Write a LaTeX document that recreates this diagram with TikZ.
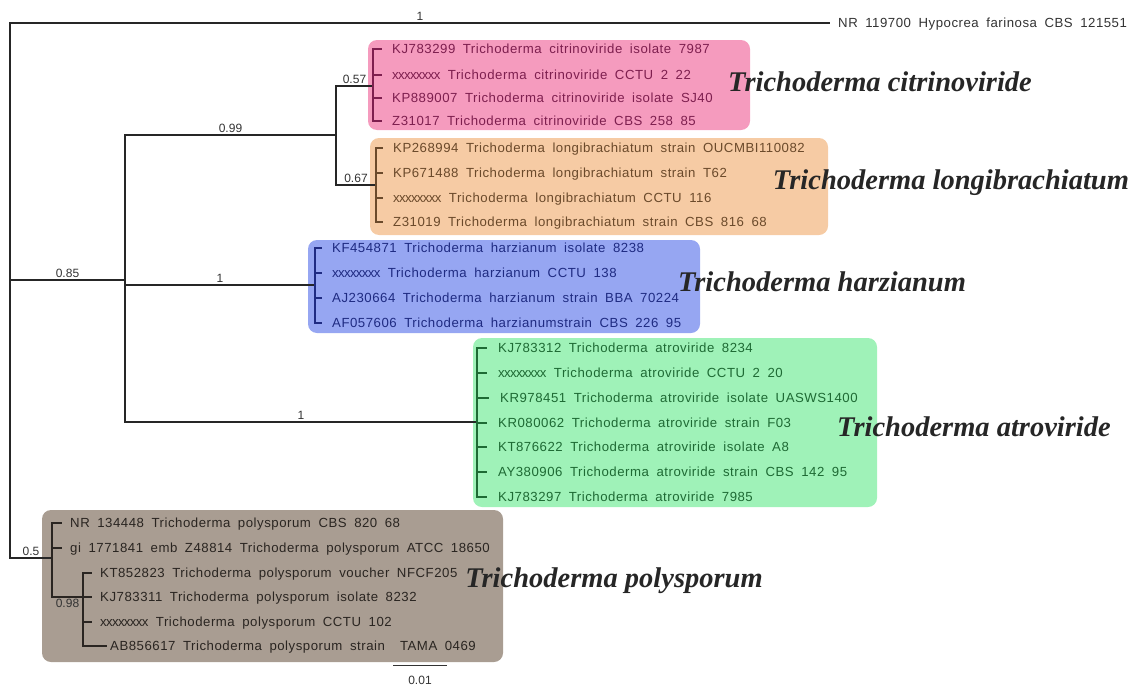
\documentclass[tikz,border=0pt]{standalone}
\usepackage{fontspec}
\setmainfont{Liberation Serif}
\setsansfont{Liberation Sans}
\newfontfamily\leaffont{Liberation Sans}[LetterSpace=4,WordSpace=1.8]
\newfontfamily\idfont{Liberation Sans}[LetterSpace=-5]
\newcommand{\xid}{{\idfont xxxxxxxx}}
\usepackage{tikz}
\usetikzlibrary{positioning, calc, backgrounds}
\definecolor{citfill}{HTML}{F59BBE}
\definecolor{citdark}{HTML}{7E1F4F}
\definecolor{lonfill}{HTML}{F6CBA4}
\definecolor{londark}{HTML}{6B4A2B}
\definecolor{harfill}{HTML}{96A6F2}
\definecolor{hardark}{HTML}{1F2B82}
\definecolor{atrfill}{HTML}{9FF2B8}
\definecolor{atrdark}{HTML}{1E6A34}
\definecolor{polfill}{HTML}{A99D92}
\definecolor{poldark}{HTML}{2A2521}
\tikzset{
  branch/.style={line width=1.6pt, draw=black!85},
  bracket/.style={line width=1.8pt, line cap=rect},
  support/.style={font=\sffamily\fontsize{12}{12}\selectfont, text=black!80, inner sep=1.5pt},
  leaf/.style={anchor=west, inner sep=0pt, text height=9.4pt, text depth=0pt, font=\leaffont\fontsize{13.2}{13.2}\selectfont},
  species/.style={font=\bfseries\itshape\fontsize{28.5}{28.5}\selectfont, text=black!85},
  clade/.style={rounded corners=9pt}
}

\begin{document}
\begin{tikzpicture}[x=1pt, y=-1pt]
\useasboundingbox (0,0) rectangle (1140,688);

% Internal nodes
\coordinate (root) at (10,280);
\coordinate (n85) at (125,280);
\coordinate (n99) at (336,135);
\coordinate (cit) at (373,86);
\coordinate (lon) at (376,185);
\coordinate (har) at (315,285);
\coordinate (atr) at (477,422);
\coordinate (pol) at (52,558);
\coordinate (n98) at (83,597);

% Outgroup
\node (out) [leaf, text=black!80] at (838,23) {NR 119700 Hypocrea farinosa CBS 121551};

% Leaves: citrinoviride
\node (cit1) [leaf, text=citdark] at (392,49) {KJ783299 Trichoderma citrinoviride isolate 7987};
\node (cit2) [leaf, text=citdark] at (392,75) {\xid\ Trichoderma citrinoviride CCTU 2 22};
\node (cit3) [leaf, text=citdark] at (392,98) {KP889007 Trichoderma citrinoviride isolate SJ40};
\node (cit4) [leaf, text=citdark] at (392,121) {Z31017 Trichoderma citrinoviride CBS 258 85};

% Leaves: longibrachiatum
\node (lon1) [leaf, text=londark] at (393,148) {KP268994 Trichoderma longibrachiatum strain OUCMBI110082};
\node (lon2) [leaf, text=londark] at (393,173) {KP671488 Trichoderma longibrachiatum strain T62};
\node (lon3) [leaf, text=londark] at (393,198) {\xid\ Trichoderma longibrachiatum CCTU 116};
\node (lon4) [leaf, text=londark] at (393,222) {Z31019 Trichoderma longibrachiatum strain CBS 816 68};

% Leaves: harzianum
\node (har1) [leaf, text=hardark] at (332,248) {KF454871 Trichoderma harzianum isolate 8238};
\node (har2) [leaf, text=hardark] at (332,273) {\xid\ Trichoderma harzianum CCTU 138};
\node (har3) [leaf, text=hardark] at (332,298) {AJ230664 Trichoderma harzianum strain BBA 70224};
\node (har4) [leaf, text=hardark] at (332,323) {AF057606 Trichoderma harzianumstrain CBS 226 95};

% Leaves: atroviride
\node (atr1) [leaf, text=atrdark] at (498,348) {KJ783312 Trichoderma atroviride 8234};
\node (atr2) [leaf, text=atrdark] at (498,373) {\xid\ Trichoderma atroviride CCTU 2 20};
\node (atr3) [leaf, text=atrdark] at (500,398) {KR978451 Trichoderma atroviride isolate UASWS1400};
\node (atr4) [leaf, text=atrdark] at (498,423) {KR080062 Trichoderma atroviride strain F03};
\node (atr5) [leaf, text=atrdark] at (498,447) {KT876622 Trichoderma atroviride isolate A8};
\node (atr6) [leaf, text=atrdark] at (498,472) {AY380906 Trichoderma atroviride strain CBS 142 95};
\node (atr7) [leaf, text=atrdark] at (498,497) {KJ783297 Trichoderma atroviride 7985};

% Leaves: polysporum
\node (pol1) [leaf, text=poldark] at (70,523) {NR 134448 Trichoderma polysporum CBS 820 68};
\node (pol2) [leaf, text=poldark] at (70,548) {gi 1771841 emb Z48814 Trichoderma polysporum ATCC 18650};
\node (pol3) [leaf, text=poldark] at (100,573) {KT852823 Trichoderma polysporum voucher NFCF205};
\node (pol4) [leaf, text=poldark] at (100,597) {KJ783311 Trichoderma polysporum isolate 8232};
\node (pol5) [leaf, text=poldark] at (100,622) {\xid\ Trichoderma polysporum CCTU 102};
\node (pol6) [leaf, text=poldark] at (110,646) {AB856617 Trichoderma polysporum strain\ \ TAMA 0469};

% Species names
\node (citname) [species] at (880,82) {Trichoderma citrinoviride};
\node (lonname) [species] at (951,183) {Trichoderma longibrachiatum};
\node (harname) [species] at (822,282) {Trichoderma harzianum};
\node (atrname) [species] at (974,427) {Trichoderma atroviride};
\node (polname) [species] at (614,581) {Trichoderma polysporum};

% Branches
\draw [branch] (root) |- node[support, pos=.75, above] {1} ([xshift=-8pt]out.west);
\draw [branch] (root) |- node[support, pos=.75, above] {0.5} (pol);
\draw [branch] (root) -- node[support, above] {0.85} (n85);
\draw [branch] (n85) |- node[support, pos=.75, above] {0.99} (n99);
\draw [branch] (n85) |- node[support, pos=.75, above] {1} (har);
\draw [branch] (n85) |- node[support, pos=.75, above] {1} (atr);
\draw [branch] (n99) |- node[support, pos=.75, above] {0.57} (cit);
\draw [branch] (n99) |- node[support, pos=.75, above] {0.67} (lon);

% Brackets
\draw [bracket, citdark] (cit |- cit1.west) -- (cit |- cit4.west);
\foreach \n in {cit1,cit2,cit3,cit4}
  \draw [bracket, citdark] (cit |- \n.west) -- ([xshift=-11pt]\n.west);
\draw [bracket, londark] (lon |- lon1.west) -- (lon |- lon4.west);
\foreach \n in {lon1,lon2,lon3,lon4}
  \draw [bracket, londark] (lon |- \n.west) -- ([xshift=-11pt]\n.west);
\draw [bracket, hardark] (har |- har1.west) -- (har |- har4.west);
\foreach \n in {har1,har2,har3,har4}
  \draw [bracket, hardark] (har |- \n.west) -- ([xshift=-11pt]\n.west);
\draw [bracket, atrdark] (atr |- atr1.west) -- (atr |- atr7.west);
\foreach \n in {atr1,atr2,atr3,atr4,atr5,atr6,atr7}
  \draw [bracket, atrdark] (atr |- \n.west) -- ([xshift=-12pt]\n.west);
\draw [bracket, poldark] (pol |- pol1.west) -- (pol |- n98);
\draw [bracket, poldark] (pol |- n98) -- node[support, below] {0.98} (n98);
\foreach \n in {pol1,pol2}
  \draw [bracket, poldark] (pol |- \n.west) -- ([xshift=-9pt]\n.west);
\draw [bracket, poldark] (n98 |- pol3.west) -- (n98 |- pol6.west);
\foreach \n in {pol3,pol4,pol5}
  \draw [bracket, poldark] (n98 |- \n.west) -- ([xshift=-9pt]\n.west);
\draw [bracket, poldark] (n98 |- pol6.west) -- ([xshift=-4pt]pol6.west);

% Scale bar
\coordinate (sb1) at (393,665);
\coordinate (sb2) at (447,665);
\draw [line width=1pt, black!80] (sb1) -- node[support, below=9pt] {0.01} (sb2);

% Clade boxes
\begin{scope}[on background layer]
\fill [clade, citfill] (368,40) rectangle (750,130);
\fill [clade, lonfill] (370,138) rectangle (828,235);
\fill [clade, harfill] (308,240) rectangle (700,333);
\fill [clade, atrfill] (473,338) rectangle (877,507);
\fill [clade, polfill] (42,510) rectangle (503,662);
\end{scope}

\end{tikzpicture}
\end{document}
